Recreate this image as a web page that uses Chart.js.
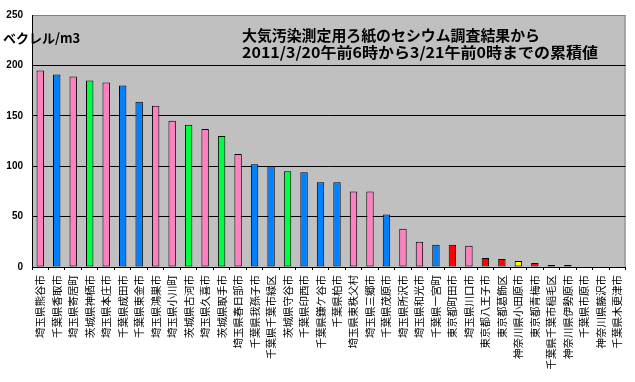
<!DOCTYPE html>
<html>
<head>
<meta charset="utf-8">
<script src="https://cdn.jsdelivr.net/npm/chart.js@4"></script>
<style>
html,body{margin:0;padding:0;background:#fff;}
#wrap{width:635px;height:382px;}
</style>
</head>
<body>
<div id="wrap"><canvas id="c" width="635" height="382"></canvas></div>
<script>
const categories = [
  "埼玉県熊谷市","千葉県香取市","埼玉県寄居町","茨城県神栖市","埼玉県本庄市","千葉県成田市",
  "千葉県東金市","埼玉県鴻巣市","埼玉県小川町","茨城県古河市","埼玉県久喜市","茨城県取手市",
  "埼玉県春日部市","千葉県我孫子市","千葉県千葉市緑区","茨城県守谷市","千葉県印西市","千葉県鎌ケ谷市",
  "千葉県柏市","埼玉県東秩父村","埼玉県三郷市","千葉県茂原市","埼玉県所沢市","埼玉県和光市",
  "千葉県一宮町","東京都町田市","埼玉県川口市","東京都八王子市","東京都葛飾区","神奈川県小田原市",
  "東京都青梅市","千葉県千葉市稲毛区","神奈川県伊勢原市","千葉県市原市","神奈川県藤沢市","千葉県木更津市"
];
const values = [
  195,191,189,185,183,180,
  164,160,145,141,137,130,
  112,102,100,95,94,84,
  84,75,75,52,38,25,
  22,22,21,9,8,6,
  4,2,2,0,0,0
];
const yTicks = [0,50,100,150,200,250];
const titleLines = ["大気汚染測定用ろ紙のセシウム調査結果から","2011/3/20午前6時から3/21午前0時までの累積値"];
const yTitle = "ベクレル/m3";

// styles (kept apart from the data)
const PINK="#FF80C0", BLUE="#0080FF", GREEN="#00FF40", RED="#FF0000", YELLOW="#FFFF00", LAV="#9999FF";
const barColors = [
  PINK,BLUE,PINK,GREEN,PINK,BLUE,
  BLUE,PINK,PINK,GREEN,PINK,GREEN,
  PINK,BLUE,BLUE,GREEN,BLUE,BLUE,
  BLUE,PINK,PINK,BLUE,PINK,PINK,
  BLUE,RED,PINK,RED,RED,YELLOW,
  RED,BLUE,LAV,BLUE,LAV,BLUE
];

function fitText(ctx, text, x, y, w){
  const m = ctx.measureText(text).width;
  ctx.save();
  ctx.translate(x, y);
  ctx.scale(w / m, 1);
  ctx.fillText(text, 0, 0);
  ctx.restore();
}

const decor = {
  id:'decor',
  beforeDraw(chart){
    const {ctx, chartArea:a} = chart;
    ctx.save();
    ctx.fillStyle = "#C0C0C0";
    ctx.fillRect(a.left, a.top, a.right-a.left, a.bottom-a.top);
    ctx.strokeStyle = "#808080";
    ctx.lineWidth = 1;
    ctx.beginPath();
    ctx.moveTo(a.left, a.top+0.5);
    ctx.lineTo(a.right-0.5, a.top+0.5);
    ctx.lineTo(a.right-0.5, a.bottom);
    ctx.stroke();
    ctx.restore();
  },
  afterDraw(chart){
    const {ctx} = chart;
    ctx.save();
    ctx.fillStyle = "#000";
    ctx.textBaseline = "alphabetic";
    ctx.textAlign = "left";
    ctx.font = "bold 15px 'Noto Sans CJK JP'";
    fitText(ctx, titleLines[0], 242, 41, 298);
    fitText(ctx, titleLines[1], 242, 58, 356);
    ctx.font = "bold 13px 'Noto Sans CJK JP'";
    ctx.fillText(yTitle, 3, 43);
    ctx.restore();
  }
};

new Chart(document.getElementById('c'), {
  type:'bar',
  data:{
    labels: categories,
    datasets:[{
      data: values,
      backgroundColor: barColors,
      borderColor:"#000",
      borderWidth:1,
      borderSkipped:false,
      barPercentage:0.45,
      categoryPercentage:1.0
    }]
  },
  options:{
    responsive:false,
    animation:false,
    devicePixelRatio:1,
    layout:{padding:{top:15,right:7,left:0,bottom:0}},
    plugins:{legend:{display:false},tooltip:{enabled:false},title:{display:false}},
    scales:{
      x:{
        offset:true,
        grid:{display:true, drawOnChartArea:false, drawTicks:true, tickLength:3, color:"#000", offset:true},
        border:{display:true, color:"#000", width:1},
        ticks:{
          autoSkip:false, minRotation:90, maxRotation:90, padding:5,
          color:"#000", font:{family:"'Noto Sans CJK JP'", size:10.5}
        },
        afterFit(s){ s.height = 115; }
      },
      y:{
        min:0, max:250,
        afterBuildTicks(s){ s.ticks = yTicks.map(v=>({value:v})); },
        grid:{
          drawTicks:false,
          color:(c)=> c.tick && c.tick.value===250 ? "#808080" : "#000",
          lineWidth:1
        },
        border:{display:true, color:"#000", width:1},
        ticks:{
          padding:9, color:"#000",
          font:{family:"'Liberation Sans', Arial", size:10, weight:"bold"}
        },
        afterFit(s){ s.width = 32; }
      }
    }
  },
  plugins:[decor]
});
</script>
</body>
</html>
